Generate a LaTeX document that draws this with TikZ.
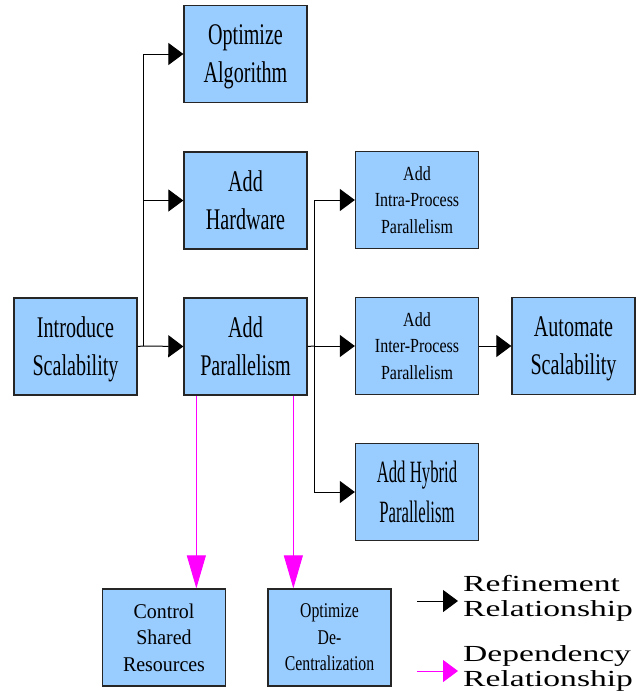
\documentclass[tikz,border=0pt]{standalone}
\usepackage{fontspec}
\setmainfont{Liberation Serif}
\newfontfamily\fbig[FakeStretch=0.67]{Liberation Serif}
\newfontfamily\fmid[FakeStretch=0.80]{Liberation Serif}
\newfontfamily\fhyb[FakeStretch=0.54]{Liberation Serif}
\newfontfamily\fctl[FakeStretch=0.95]{Liberation Serif}
\newfontfamily\fdec[FakeStretch=0.75]{Liberation Serif}
\newfontfamily\fleg[FakeStretch=1.46]{Liberation Serif}
\usetikzlibrary{arrows.meta,calc}
\definecolor{boxblue}{HTML}{99CCFF}
\definecolor{depmag}{HTML}{FF00FF}
\begin{document}
\begin{tikzpicture}[x=1pt,y=-1pt,
  box/.style={draw=black!85, line width=1.3pt, fill=boxblue, minimum width=123pt,
    minimum height=97pt, inner sep=0pt, align=center, text depth=0pt},
  bigtxt/.style={font=\fbig\fontsize{30}{38}\selectfont},
  midtxt/.style={font=\fmid\fontsize{20}{26.5}\selectfont},
  hybtxt/.style={font=\fhyb\fontsize{31}{40}\selectfont},
  ctltxt/.style={font=\fctl\fontsize{21}{26.5}\selectfont},
  dectxt/.style={font=\fdec\fontsize{21}{26.5}\selectfont},
  legtxt/.style={font=\fleg\fontsize{23}{25}\selectfont, align=left, inner sep=0pt, anchor=west},
  refarrow/.style={draw=black, line width=1pt, -{Triangle[length=15pt,width=22pt]}},
  refline/.style={draw=black, line width=1pt},
  deparrow/.style={draw=depmag, line width=1pt, -{Triangle[length=33pt,width=19pt]}},
  legdep/.style={draw=depmag, line width=1pt, -{Triangle[length=15pt,width=22pt]}},
]
\useasboundingbox (0,0) rectangle (639,691);

% boxes
\node[box, bigtxt] (intro)  at (75.5,346.5) {Introduce\\Scalability};
\node[box, bigtxt] (optalg) at (245.5,54)   {Optimize\\Algorithm};
\node[box, bigtxt] (hw)     at (245.5,200.5){Add\\Hardware};
\node[box, bigtxt] (par)    at (245.5,346.5){Add\\Parallelism};
\node[box, midtxt] (intra)  at (417,200)    {Add\\Intra-Process\\Parallelism};
\node[box, midtxt] (inter)  at (417,346)    {Add\\Inter-Process\\Parallelism};
\node[box, bigtxt] (auto)   at (573.5,346)  {Automate\\Scalability};
\node[box, hybtxt] (hyb)    at (417,492)    {Add Hybrid\\Parallelism};
\node[box, ctltxt] (ctrl)   at (164,637.5)  {Control\\Shared\\Resources};
\node[box, dectxt] (dec)    at (329.5,637.5){Optimize\\De-\\Centralization};

% trunk 1
\coordinate (t1) at (143,346);
\draw[refline] (intro.east) -- (t1);
\draw[refarrow] (t1) -- (par.west);
\draw[refarrow] (t1) |- (optalg.west);
\draw[refarrow] (t1 |- hw.west) -- (hw.west);

% trunk 2
\coordinate (t2) at (314,346);
\draw[refline] (par.east) -- (t2);
\draw[refarrow] (t2) -- (inter.west);
\draw[refarrow] (t2) |- (intra.west);
\draw[refarrow] (t2) |- (hyb.west);
\draw[refarrow] (inter.east) -- (auto.west);

% dependencies
\draw[deparrow] ([xshift=13pt]par.south west) -- ([xshift=13pt]par.south west |- ctrl.north);
\draw[deparrow] ([xshift=110pt]par.south west) -- ([xshift=110pt]par.south west |- dec.north);

% legend
\coordinate (l1s) at (417,601);
\coordinate (l1e) at (458,601);
\coordinate (l2s) at (417,671);
\coordinate (l2e) at (458,671);
\draw[refarrow] (l1s) -- (l1e);
\draw[legdep] (l2s) -- (l2e);
\node[legtxt] (lref) at (463,598) {Refinement\\Relationship};
\node[legtxt] (ldep) at (463,668) {Dependency\\Relationship};
\end{tikzpicture}
\end{document}
